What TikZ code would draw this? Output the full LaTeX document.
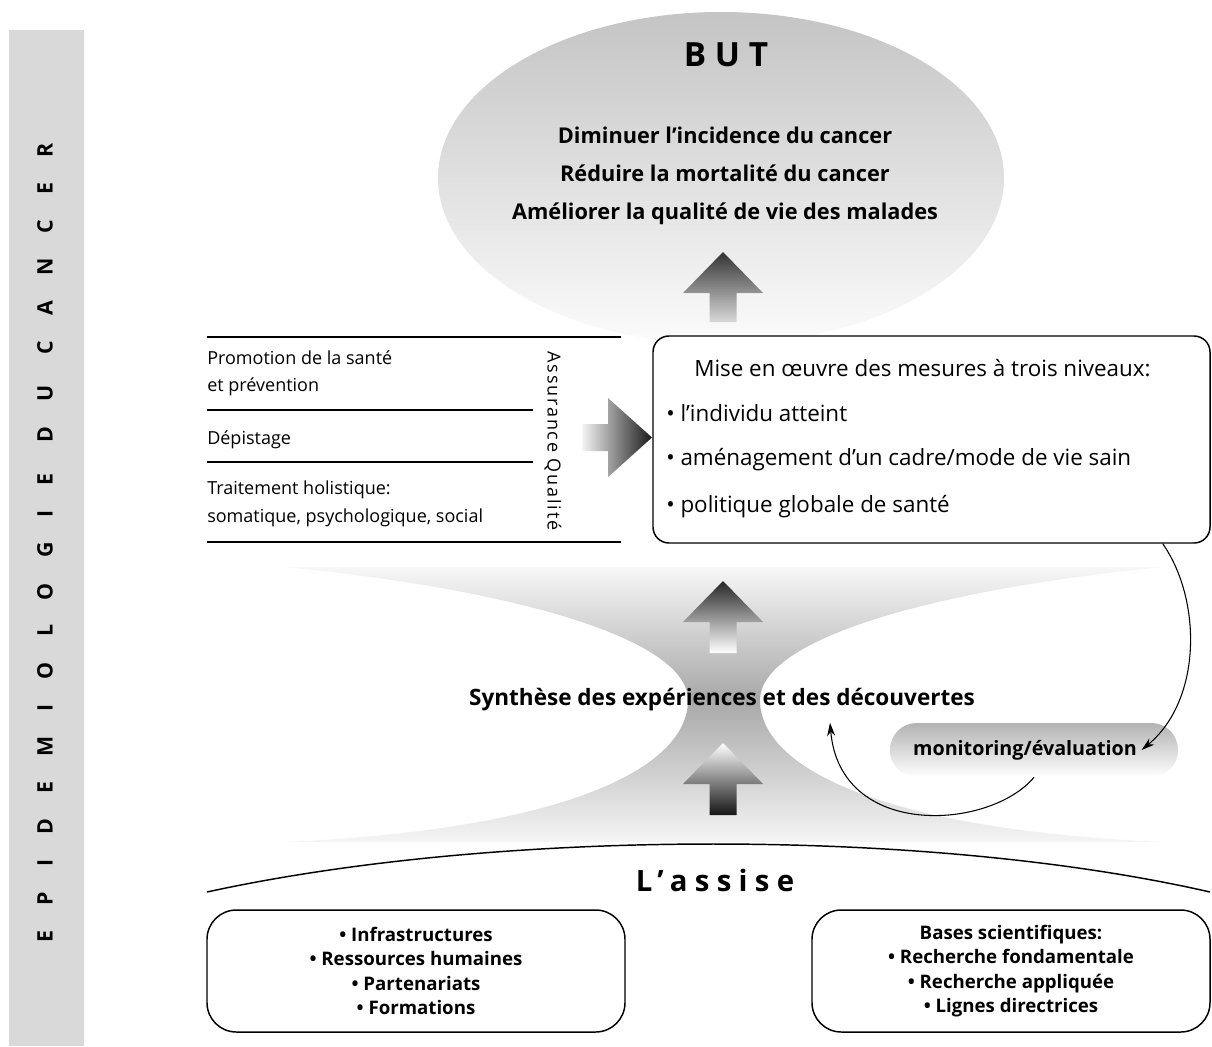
\documentclass[tikz,border=0pt]{standalone}
\usepackage{fontspec}
\setmainfont{Open Sans}
\usetikzlibrary{arrows.meta,positioning,shapes.geometric}

\pgfdeclareverticalshading{waist}{100bp}{color(0bp)=(white); color(25bp)=(gray!8); color(51bp)=(gray!68); color(75bp)=(gray!6); color(100bp)=(white)}

\begin{document}
\begin{tikzpicture}[x=0.75pt,y=-0.75pt,
    frame/.style={draw,line width=1.1pt,rounded corners=12pt,fill=white},
    base/.style={draw,line width=1.1pt,rounded corners=22pt,fill=white,align=center,
      font=\fontsize{14}{18.2}\selectfont\bfseries,minimum height=91.5pt},
    rule/.style={line width=1.1pt},
    item/.style={anchor=west,inner sep=0pt,font=\fontsize{13.5}{16}\selectfont},
    level/.style={anchor=west,inner sep=0pt,font=\fontsize{16.8}{19}\selectfont},
    loop/.style={line width=0.8pt,-{Stealth[length=10pt,width=6pt]}}]

\useasboundingbox (0,0) rectangle (1212,1046);

% side bar
\fill[gray!30] (9,30) rectangle (84,1046);
\node[rotate=90,font=\fontsize{16}{18}\selectfont\bfseries\addfontfeature{LetterSpace=118}] (side) at (45,543) {EPIDEMIOLOGIE DU CANCER};

% goal
\node[ellipse,minimum width=424.5pt,minimum height=249pt,top color=gray!46,bottom color=gray!3] (goal) at (721,178) {};
\node[font=\fontsize{25}{28}\selectfont\bfseries] (but) at (726,55) {B U T};
\node[align=center,font=\fontsize{16.3}{28.5}\selectfont\bfseries] (aims) at (725,176)
  {Diminuer l’incidence du cancer\\Réduire la mortalité du cancer\\Améliorer la qualité de vie des malades};

% hourglass
\shade[shading=waist] (284,567) .. controls (520,590) and (688,640) .. (688,700)
  .. controls (688,770) and (560,830) .. (284,842) -- (1164,842)
  .. controls (888,830) and (760,770) .. (760,700)
  .. controls (760,640) and (928,590) .. (1164,567) -- cycle;

% up arrows
\foreach \ya/\yb/\ct/\cb in {252/322/black!80/gray!30, 581/653/black!85/white, 743/815/white/black!92}
  \shade[top color=\ct,bottom color=\cb] (723,\ya) -- (763,{\ya+41}) -- (736.5,{\ya+41})
    -- (736.5,\yb) -- (709.5,\yb) -- (709.5,{\ya+41}) -- (683,{\ya+41}) -- cycle;
\shade[left color=gray!8,right color=black!90] (582,424) -- (608,424) -- (608,398) -- (652,437.5)
  -- (608,477) -- (608,451) -- (582,451) -- cycle;

% left list
\foreach \yy/\xx in {337/621,410/533,462/533,542/621}
  \draw[rule] (207,\yy) -- (\xx,\yy);
\node[item] (promo) at (207,358) {Promotion de la santé};
\node[item] (prev) at (207,387) {et prévention};
\node[item] (dep) at (207,440) {Dépistage};
\node[item] (trait) at (207,490) {Traitement holistique:};
\node[item] (soma) at (207,518) {somatique, psychologique, social};
\node[rotate=-90,font=\fontsize{13.5}{16}\selectfont\addfontfeature{LetterSpace=10}] (aq) at (553,441) {Assurance Qualité};

% measures
\node[frame,minimum width=417.75pt,minimum height=155.25pt] (meas) at (931.5,439.5) {};
\node[level] (mise) at (694,368) {Mise en œuvre des mesures à trois niveaux:};
\node[level] (indiv) at (666,413) {• l’individu atteint};
\node[level] (cadre) at (666,460) {• aménagement d’un cadre/mode de vie sain};
\node[level] (polit) at (666,507) {• politique globale de santé};

% synthesis and monitoring
\node[font=\fontsize{16.9}{19}\selectfont\bfseries] (synth) at (722,700) {Synthèse des expériences et des découvertes};
\node[rounded corners=20pt,minimum width=216pt,minimum height=40.5pt,top color=gray!60,bottom color=white] (mon) at (1034,750) {};
\node[font=\fontsize{14.8}{17}\selectfont\bfseries] (montxt) at (1025,750) {monitoring/évaluation};
\draw[loop] ([xshift=-36pt]meas.south east) .. controls (1202,600) and (1202,700) .. (montxt.east);
\draw[loop] (mon.south) .. controls (990,830) and (840,840) .. ([xshift=81pt,yshift=-5pt]synth.south);

% base
\draw[line width=1.1pt] (207,892) .. controls (500,828) and (930,828) .. (1210,892);
\node[font=\fontsize{22}{25}\selectfont\bfseries\addfontfeature{LetterSpace=25}] (assise) at (715,880) {L’assise};
\node[base,minimum width=313.5pt] (infra) at (416,971)
  {• Infrastructures\\• Ressources humaines\\• Partenariats\\• Formations};
\node[base,minimum width=298.5pt] (sci) at (1011,971)
  {Bases scientifiques:\\• Recherche fondamentale\\• Recherche appliquée\\• Lignes directrices};
\end{tikzpicture}
\end{document}
